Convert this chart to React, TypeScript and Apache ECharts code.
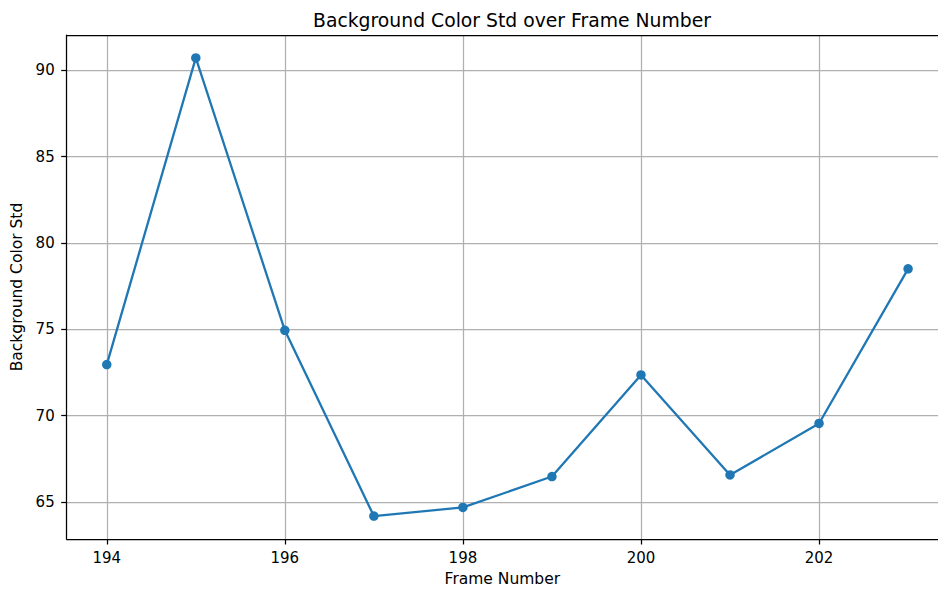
import React, { useEffect, useRef } from "react";
import * as echarts from "echarts";

const frames = [194, 195, 196, 197, 198, 199, 200, 201, 202, 203];
const stdValues = [72.96, 90.71, 74.94, 64.19, 64.69, 66.48, 72.36, 66.57, 69.55, 78.5];
const xTicks = [194, 196, 198, 200, 202];
const yTicks = [65, 70, 75, 80, 85, 90];

const FONT = "DejaVu Sans";

export default function App() {
  const ref = useRef<HTMLDivElement>(null);
  useEffect(() => {
    document.body.style.margin = "0";
    const chart = echarts.init(ref.current!, null, { renderer: "svg" });
    const xMin = 193.55;
    const xMax = 203.336;
    const yMin = 62.864;
    const yMax = 92.036;
    const spine = { color: "#000", width: 1.25 };
    chart.setOption({
      animation: false,
      backgroundColor: "#ffffff",
      title: {
        text: "Background Color Std over Frame Number",
        left: 507,
        top: 4,
        textAlign: "center",
        textStyle: { fontFamily: FONT, fontSize: 18.8, fontWeight: "normal", color: "#000", lineHeight: 22 },
      },
      grid: {
        left: 66.7,
        right: 0,
        top: 35,
        bottom: 50.3,
        show: false,
      },
      xAxis: [
        {
          type: "value",
          min: xMin,
          max: xMax,
          name: "Frame Number",
          nameLocation: "middle",
          nameGap: 32,
          nameTextStyle: { fontFamily: FONT, fontSize: 15.5, color: "#000" },
          axisLine: { show: true, lineStyle: spine },
          axisTick: { show: true, customValues: xTicks, length: 5.5, lineStyle: spine },
          axisLabel: {
            customValues: xTicks,
            margin: 11,
            fontFamily: FONT,
            fontSize: 15,
            color: "#000",
          },
          splitLine: { show: true, lineStyle: { color: "#b0b0b0", width: 1.25 } },
        },
        {
          type: "value",
          position: "top",
          min: xMin,
          max: xMax,
          axisLine: { show: true, onZero: false, lineStyle: spine },
          axisTick: { show: false },
          axisLabel: { show: false },
          splitLine: { show: false },
        },
      ],
      yAxis: {
        type: "value",
        min: yMin,
        max: yMax,
        name: "Background Color Std",
        nameLocation: "middle",
        nameGap: 36,
        nameRotate: 90,
        nameTextStyle: { fontFamily: FONT, fontSize: 15.5, color: "#000" },
        axisLine: { show: true, lineStyle: spine },
        axisTick: { show: true, customValues: yTicks, length: 5.5, lineStyle: spine },
        axisLabel: {
          customValues: yTicks,
          margin: 12,
          fontFamily: FONT,
          fontSize: 15,
          color: "#000",
        },
        splitLine: { show: true, lineStyle: { color: "#b0b0b0", width: 1.25 } },
      },
      series: [
        {
          type: "line",
          xAxisIndex: 0,
          data: frames.map((f, i) => [f, stdValues[i]]),
          symbol: "circle",
          symbolSize: 9.5,
          showSymbol: true,
          itemStyle: { color: "#1f77b4" },
          lineStyle: { color: "#1f77b4", width: 2.3 },
          clip: false,
        },
      ],
    });
    return () => chart.dispose();
  }, []);
  return <div ref={ref} style={{ width: 938, height: 592 }} />;
}
